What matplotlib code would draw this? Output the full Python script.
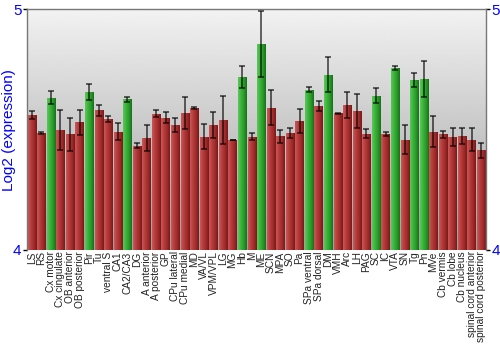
import numpy as np
import matplotlib
matplotlib.use("Agg")
import matplotlib.pyplot as plt
from matplotlib.colors import LinearSegmentedColormap

regions = ["LS", "RS", "Cx motor", "Cx cingulate", "OB anterior", "OB posterior", "Pir", "Tu",
           "ventral S", "CA1", "CA2/CA3", "DG", "A anterior", "A posterior", "GP", "CPu lateral",
           "CPu medial", "MD", "VA/VL", "VPM/VPL", "LG", "MG", "Hb", "M", "ME", "SCN", "MPA", "SO",
           "Pa", "SPa ventral", "SPa dorsal", "DM", "VMH", "Arc", "LH", "PAG", "SC", "IC", "VTA",
           "SN", "Tg", "Pn", "MVe", "Cb vermis", "Cb lobe", "Cb nucleus", "spinal cord anterior",
           "spinal cord posterior"]
expr = [4.561, 4.486, 4.633, 4.499, 4.481, 4.530, 4.658, 4.580, 4.543, 4.492, 4.627, 4.434,
        4.466, 4.566, 4.550, 4.519, 4.569, 4.590, 4.470, 4.519, 4.541, 4.457, 4.719, 4.470,
        4.857, 4.591, 4.472, 4.486, 4.536, 4.666, 4.597, 4.728, 4.569, 4.603, 4.578, 4.483,
        4.642, 4.481, 4.756, 4.459, 4.707, 4.710, 4.492, 4.481, 4.468, 4.475, 4.459, 4.414]
err = [0.016, 0.003, 0.026, 0.082, 0.069, 0.051, 0.034, 0.023, 0.012, 0.035, 0.010, 0.010,
       0.053, 0.015, 0.023, 0.029, 0.065, 0.003, 0.052, 0.053, 0.099, 0.002, 0.047, 0.015,
       0.138, 0.072, 0.027, 0.021, 0.050, 0.010, 0.021, 0.073, 0.002, 0.054, 0.071, 0.019,
       0.031, 0.008, 0.007, 0.062, 0.030, 0.074, 0.064, 0.015, 0.037, 0.034, 0.048, 0.031]
high = ["Cx motor", "Pir", "CA2/CA3", "Hb", "ME", "SPa ventral", "DM", "SC", "VTA", "Tg", "Pn"]

plt.rcParams['font.family'] = ['Liberation Sans', 'DejaVu Sans']

red_cm = LinearSegmentedColormap.from_list("r", ["#c85a5a", "#b83c3c", "#a02c2c", "#7a1818"])
green_cm = LinearSegmentedColormap.from_list("g", ["#5ac85a", "#3cb43c", "#2a9a2a", "#187018"])

fig = plt.figure(figsize=(5, 3.5), dpi=100)
ax = fig.add_axes([0.054, 0.286, 0.918, 0.687])
n = len(regions)

# grey backdrop, light at the top
bg = np.linspace(0.62, 0.95, 256).reshape(-1, 1)
ax.imshow(bg, cmap="gray", vmin=0, vmax=1, extent=(-0.5, n - 0.5, 4, 5),
          aspect="auto", origin="lower", zorder=0)

x = np.arange(n)
bars = ax.bar(x, np.array(expr) - 4, bottom=4, width=0.88, color="none", zorder=2)
shade = np.linspace(0, 1, 64).reshape(1, -1)
for b, name in zip(bars, regions):
    cm = green_cm if name in high else red_cm
    x0, y0 = b.get_x(), b.get_y()
    im = ax.imshow(shade, cmap=cm, extent=(x0, x0 + b.get_width(), y0, y0 + b.get_height()),
                   aspect="auto", zorder=2)
    im.set_clip_path(b)

ax.errorbar(x, expr, yerr=err, fmt="none", ecolor="black", elinewidth=1.1,
            capsize=2, capthick=1.1, alpha=0.75, zorder=3)
ax.set_xlim(-0.5, n - 0.5)
ax.set_ylim(4, 5)

ax.set_xticks(x)
ax.set_xticklabels(regions, rotation=90, fontsize=7.3, color="#222222")
ax.tick_params(axis="x", length=0, pad=1)
ax.set_yticks([4, 5])
ax.set_yticklabels(["4", "5"], fontsize=11, color="blue")
ax.tick_params(axis="y", length=3, width=1, color="black", pad=1, right=True, labelright=True)
ax.set_ylabel("Log2 (expression)", color="blue", fontsize=11, va="center")
ax.yaxis.set_label_coords(-0.039, 0.5)

for s in ax.spines.values():
    s.set_color("#777777")
    s.set_linewidth(1)
ax.spines["bottom"].set_visible(False)

fig.savefig("out.png", dpi=100)
